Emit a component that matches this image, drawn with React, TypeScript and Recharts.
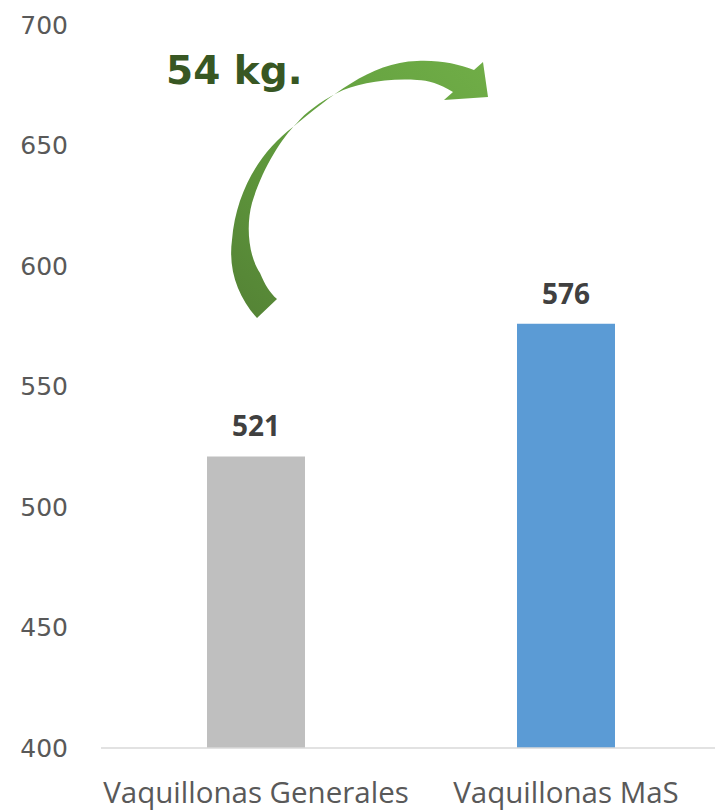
import React from "react";
import { BarChart, Bar, XAxis, YAxis, Cell, LabelList } from "recharts";

const categories = ["Vaquillonas Generales", "Vaquillonas MaS"];
const weights = [521, 576];
const barColors = ["#BFBFBF", "#5B9BD5"];
const yTicks = [400, 450, 500, 550, 600, 650, 700];
const gainLabel = "54 kg.";

const data = categories.map((name, i) => ({ name, value: weights[i], color: barColors[i] }));

// curved arrow between the two bars (decoration only)
const arrowPath =
  "M 257 318 C 238 297, 228 270, 232 240 C 236 190, 262 150, 293 127 " +
  "C 330 97, 370 62, 417 61 C 440 60, 458 64, 474 70 L 483 62 L 488 97 L 444 100 L 453 92 " +
  "C 440 84, 428 80, 417 80 C 385 78, 355 84, 337 93 C 320 102, 305 113, 297 123 " +
  "C 280 140, 262 170, 252 203 C 246 225, 248 255, 260 273 C 265 285, 270 293, 277 299 Z";

export default function App() {
  return (
    <div style={{ position: "absolute", left: 0, top: 0, width: 715, height: 811, overflow: "hidden", background: "#fff" }}>
      <BarChart width={730} height={811} data={data} margin={{ top: 25, right: 9, bottom: 0, left: 0 }} barSize={98}>
        <XAxis
          dataKey="name"
          height={63}
          axisLine={{ stroke: "#D9D9D9", strokeWidth: 1.5 }}
          tickLine={false}
          tickSize={0}
          tickMargin={34}
          tick={{ fontFamily: "Open Sans", fontSize: 29.5, fill: "#595959" }}
        />
        <YAxis
          width={101}
          domain={[400, 700]}
          ticks={yTicks}
          axisLine={false}
          tickLine={false}
          tickSize={0}
          tickMargin={33}
          tick={{ fontFamily: "DejaVu Sans", fontSize: 25, fill: "#595959" }}
        />
        <Bar dataKey="value" isAnimationActive={false}>
          {data.map((d, i) => (
            <Cell key={`cell-${i}`} fill={d.color} />
          ))}
          <LabelList
            dataKey="value"
            position="top"
            offset={20}
            style={{ fontFamily: "Open Sans", fontSize: 28, fontWeight: 700, fill: "#404040" }}
          />
        </Bar>
      </BarChart>
      <svg width={715} height={811} style={{ position: "absolute", left: 0, top: 0, pointerEvents: "none" }}>
        <defs>
          <linearGradient id="arrowGrad" x1="0" y1="1" x2="1" y2="0">
            <stop offset="0%" stopColor="#548235" />
            <stop offset="55%" stopColor="#63A03F" />
            <stop offset="100%" stopColor="#70AD47" />
          </linearGradient>
        </defs>
        <path d={arrowPath} fill="url(#arrowGrad)" />
        <text x={166} y={84} fontFamily="DejaVu Sans" fontWeight={700} fontSize={39} fill="#385723">
          {gainLabel}
        </text>
      </svg>
    </div>
  );
}
